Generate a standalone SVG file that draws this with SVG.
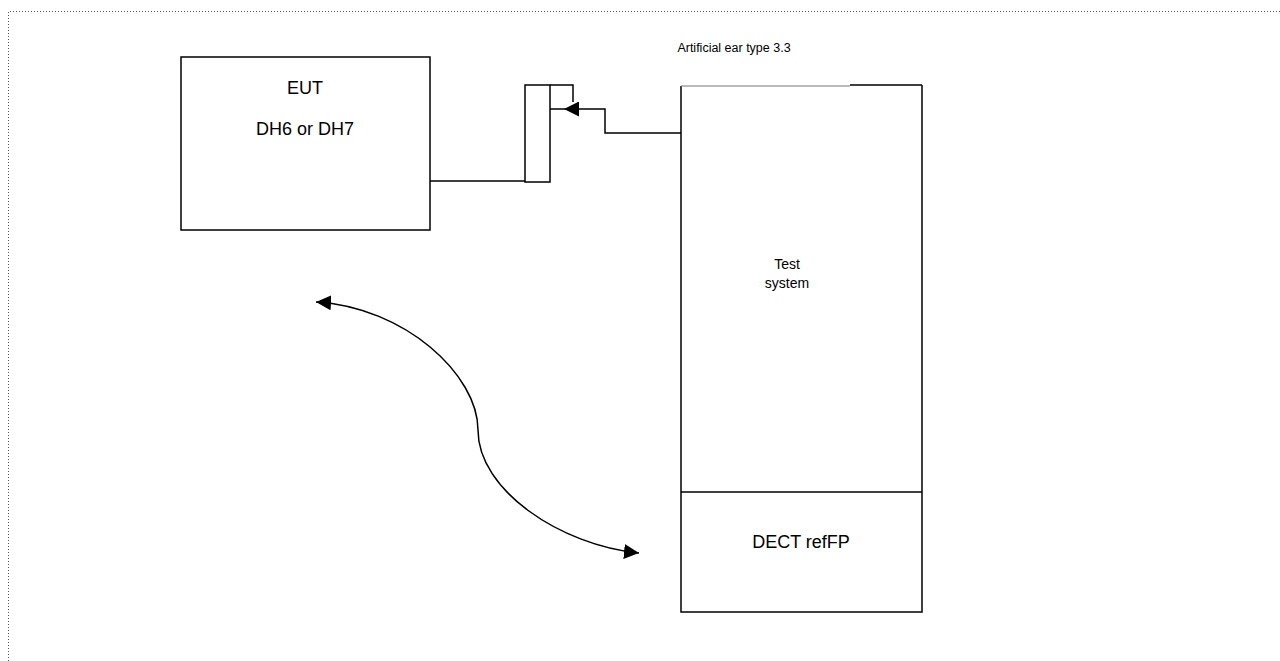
<svg xmlns="http://www.w3.org/2000/svg" width="1280" height="661" viewBox="0 0 1280 661">
<style>
.box{fill:#fff;stroke:#000;stroke-width:1.5}
.ln{fill:none;stroke:#000;stroke-width:1.5}
.t{font-family:"Liberation Sans",Arial,sans-serif;fill:#000;text-anchor:middle}
</style>
<defs>
<marker id="ah" viewBox="0 0 10 10" refX="10" refY="5" markerWidth="15" markerHeight="15" markerUnits="userSpaceOnUse" orient="auto">
<path d="M0,0 L10,5 L0,10 Z" fill="#000"/>
</marker>
</defs>
<rect width="1280" height="661" fill="#fff"/>
<path d="M8.5,661 V11.5 H1280" fill="none" stroke="#555" stroke-width="1" stroke-dasharray="1,2"/>
<g id="eut">
<rect class="box" x="181" y="57" width="249" height="173"/>
<text class="t" x="305" y="94" font-size="18">EUT</text>
<text class="t" x="305" y="135" font-size="18">DH6 or DH7</text>
</g>
<g id="ear">
<rect class="box" x="525" y="85" width="25" height="97"/>
<text class="t" x="734" y="52" font-size="12.5">Artificial ear type 3.3</text>
</g>
<g id="test-system">
<rect x="681" y="86" width="241" height="526" fill="#fff"/>
<path class="ln" d="M681,86 V612 H922 V85"/>
<line x1="681" y1="86" x2="850" y2="86" stroke="#777" stroke-width="1"/>
<line x1="850" y1="85" x2="922" y2="85" stroke="#000" stroke-width="1.5"/>
<line class="ln" x1="681" y1="492" x2="922" y2="492"/>
<text class="t" x="787" y="269" font-size="14">Test</text>
<text class="t" x="787" y="288" font-size="14">system</text>
</g>
<g id="dect">
<text class="t" x="801" y="548" font-size="18">DECT refFP</text>
</g>
<g id="connectors">
<polyline class="ln" points="430,181 525,181"/>
<polyline class="ln" points="550,85 573,85 573,102"/>
<polyline class="ln" points="681,133 605,133 605,109 564,109" marker-end="url(#ah)"/>
<line class="ln" x1="550" y1="109" x2="564" y2="109"/>
<path class="ln" d="M478,430 C478,375 405,307 316,302" marker-end="url(#ah)"/>
<path class="ln" d="M478,430 C478,490 560,545 639,553" marker-end="url(#ah)"/>
</g>
</svg>
